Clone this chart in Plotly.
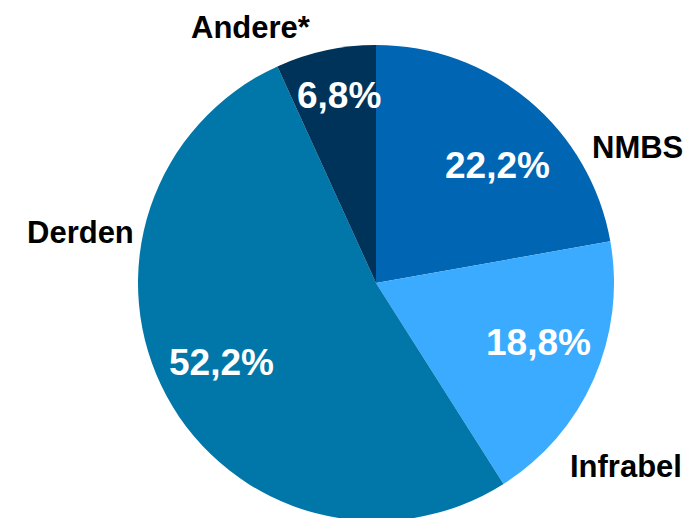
import plotly.graph_objects as go

W, H = 687, 524

categories = ["NMBS", "Infrabel", "Derden", "Andere*"]
values = [22.2, 18.8, 52.2, 6.8]
colors = ["#0066B3", "#3AABFF", "#0077A8", "#00335A"]

# label placement (pixel centres) for category names and percentages
name_pos = [(637, 147), (626, 466), (80, 232), (251, 27)]
pct_pos = [(497, 165), (538, 342), (221, 362), (339, 96)]

cx, cy, r = 376, 283, 238

fig = go.Figure(go.Pie(
    labels=categories,
    values=values,
    sort=False,
    direction="clockwise",
    rotation=0,
    marker=dict(colors=colors, line=dict(width=0)),
    textinfo="none",
    hoverinfo="label+percent",
    showlegend=False,
    domain=dict(x=[(cx - r) / W, (cx + r) / W], y=[max(0, (H - cy - r) / H), (H - cy + r) / H]),
))

anns = []
for name, (px, py) in zip(categories, name_pos):
    anns.append(dict(x=px / W, y=1 - py / H, xref="paper", yref="paper", text=f"<b>{name}</b>",
                     showarrow=False, xanchor="center", yanchor="middle",
                     font=dict(family="Liberation Sans, Arial", size=31, color="#000000")))
for v, (px, py) in zip(values, pct_pos):
    txt = f"{v:.1f}".replace(".", ",") + "%"
    anns.append(dict(x=px / W, y=1 - py / H, xref="paper", yref="paper", text=f"<b>{txt}</b>",
                     showarrow=False, xanchor="center", yanchor="middle",
                     font=dict(family="Liberation Sans, Arial", size=37, color="#FFFFFF")))

fig.update_layout(
    width=W, height=H,
    margin=dict(l=0, r=0, t=0, b=0),
    paper_bgcolor="white", plot_bgcolor="white",
    annotations=anns,
)

fig.write_html(
    "out.html",
    config={"displayModeBar": False},
    post_script="document.body.style.margin='0';document.body.style.overflow='hidden';",
)
